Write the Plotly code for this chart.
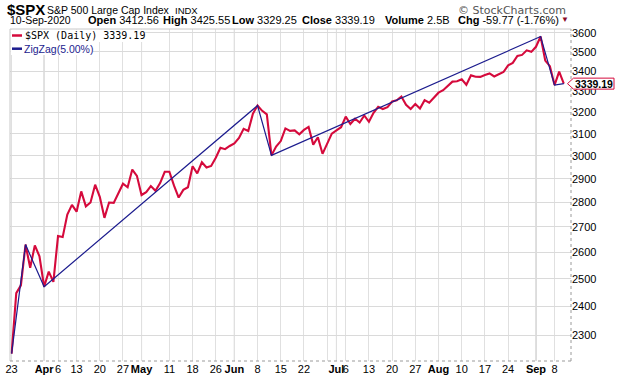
import plotly.graph_objects as go
import numpy as np

# ---------------- data ----------------
dates = [
    "2020-03-23", "2020-03-24", "2020-03-25", "2020-03-26", "2020-03-27", "2020-03-30", "2020-03-31",
    "2020-04-01", "2020-04-02", "2020-04-03", "2020-04-06", "2020-04-07", "2020-04-08", "2020-04-09",
    "2020-04-13", "2020-04-14", "2020-04-15", "2020-04-16", "2020-04-17", "2020-04-20", "2020-04-21",
    "2020-04-22", "2020-04-23", "2020-04-24", "2020-04-27", "2020-04-28", "2020-04-29", "2020-04-30",
    "2020-05-01", "2020-05-04", "2020-05-05", "2020-05-06", "2020-05-07", "2020-05-08", "2020-05-11",
    "2020-05-12", "2020-05-13", "2020-05-14", "2020-05-15", "2020-05-18", "2020-05-19", "2020-05-20",
    "2020-05-21", "2020-05-22", "2020-05-26", "2020-05-27", "2020-05-28", "2020-05-29", "2020-06-01",
    "2020-06-02", "2020-06-03", "2020-06-04", "2020-06-05", "2020-06-08", "2020-06-09", "2020-06-10",
    "2020-06-11", "2020-06-12", "2020-06-15", "2020-06-16", "2020-06-17", "2020-06-18", "2020-06-19",
    "2020-06-22", "2020-06-23", "2020-06-24", "2020-06-25", "2020-06-26", "2020-06-29", "2020-06-30",
    "2020-07-01", "2020-07-02", "2020-07-06", "2020-07-07", "2020-07-08", "2020-07-09", "2020-07-10",
    "2020-07-13", "2020-07-14", "2020-07-15", "2020-07-16", "2020-07-17", "2020-07-20", "2020-07-21",
    "2020-07-22", "2020-07-23", "2020-07-24", "2020-07-27", "2020-07-28", "2020-07-29", "2020-07-30",
    "2020-07-31", "2020-08-03", "2020-08-04", "2020-08-05", "2020-08-06", "2020-08-07", "2020-08-10",
    "2020-08-11", "2020-08-12", "2020-08-13", "2020-08-14", "2020-08-17", "2020-08-18", "2020-08-19",
    "2020-08-20", "2020-08-21", "2020-08-24", "2020-08-25", "2020-08-26", "2020-08-27", "2020-08-28",
    "2020-08-31", "2020-09-01", "2020-09-02", "2020-09-03", "2020-09-04", "2020-09-08", "2020-09-09",
    "2020-09-10",
]
close = [
    2237.40, 2447.33, 2475.56, 2630.07, 2541.47, 2626.65, 2584.59,
    2470.50, 2526.90, 2488.65, 2663.68, 2659.41, 2749.98, 2789.82,
    2761.63, 2846.06, 2783.36, 2799.55, 2874.56, 2823.16, 2736.56,
    2799.31, 2797.80, 2836.74, 2878.48, 2863.39, 2939.51, 2912.43,
    2830.71, 2842.74, 2868.44, 2848.42, 2881.19, 2929.80, 2930.32,
    2870.12, 2820.00, 2852.50, 2863.70, 2953.91, 2922.94, 2971.61,
    2948.51, 2955.45, 2991.77, 3036.13, 3029.73, 3044.31, 3055.73,
    3080.82, 3122.87, 3112.35, 3193.93, 3232.39, 3207.18, 3190.14,
    3002.10, 3041.31, 3066.59, 3124.74, 3113.49, 3115.34, 3097.74,
    3117.86, 3131.29, 3050.33, 3083.76, 3009.05, 3053.24, 3100.29,
    3115.86, 3130.01, 3179.72, 3145.32, 3169.94, 3152.05, 3185.04,
    3155.22, 3197.52, 3226.56, 3215.57, 3224.73, 3251.84, 3257.30,
    3276.02, 3235.66, 3215.63, 3239.41, 3218.44, 3258.44, 3246.22,
    3271.12, 3294.61, 3306.51, 3327.77, 3349.16, 3351.28, 3360.47,
    3333.69, 3380.35, 3373.43, 3372.85, 3381.99, 3389.78, 3374.85,
    3385.51, 3397.16, 3431.28, 3443.62, 3478.73, 3484.55, 3508.01,
    3500.31, 3526.65, 3580.84, 3455.06, 3426.96, 3331.84, 3398.96,
    3339.19,
]
zz_dates = ["2020-03-23", "2020-03-26", "2020-04-01", "2020-06-08", "2020-06-11",
            "2020-09-02", "2020-09-08", "2020-09-10"]
zz_values = [2237.40, 2630.07, 2470.50, 3232.39, 3002.10, 3580.84, 3331.84, 3339.19]

tick_dates = ["2020-03-23", "2020-04-01", "2020-04-06", "2020-04-13", "2020-04-20", "2020-04-27",
              "2020-05-01", "2020-05-11", "2020-05-18", "2020-05-26", "2020-06-01", "2020-06-08",
              "2020-06-15", "2020-06-22", "2020-06-29", "2020-07-01", "2020-07-06", "2020-07-13",
              "2020-07-20", "2020-07-27", "2020-08-03", "2020-08-10", "2020-08-17", "2020-08-24",
              "2020-09-01", "2020-09-08"]
tick_labels = ["23", "<b>Apr</b>", "6", "13", "20", "27",
               "<b>May</b>", "11", "18", "26", "<b>Jun</b>", "8",
               "15", "22", "", "<b>Jul</b>", "6", "13",
               "20", "27", "<b>Aug</b>", "10", "17", "24",
               "<b>Sep</b>", "8"]
month_dates = ["2020-04-01", "2020-05-01", "2020-06-01", "2020-07-01", "2020-08-03", "2020-09-01"]
y_ticks = [2300, 2400, 2500, 2600, 2700, 2800, 2900, 3000, 3100, 3200, 3300, 3400, 3500, 3600]

# ---------------- layout geometry ----------------
W, H = 618, 380
L, R, T, B = 10, 47, 29, 19
PW, PH = W - L - R, H - T - B
Y_LO, Y_HI = np.log10(2213), np.log10(3621)
X_LO, X_HI = -0.35, len(dates) - 1 + 1.55

RED = "#d50a3c"
NAVY = "#1c1c8e"
FONT = "Liberation Sans, Arial, sans-serif"


def px(x):
    return (x - L) / PW


def py(y):
    return (H - B - y) / PH


def val_to_ypix(v):
    frac = (np.log10(v) - Y_LO) / (Y_HI - Y_LO)
    return T + (1 - frac) * PH


fig = go.Figure()
fig.add_trace(go.Scatter(x=dates, y=close, mode="lines",
                         line=dict(color=RED, width=2.1), name="$SPX (Daily)"))
fig.add_trace(go.Scatter(x=zz_dates, y=zz_values, mode="lines",
                         line=dict(color=NAVY, width=1.2), name="ZigZag(5.00%)"))

shapes = []
# darker month gridlines
for m in month_dates:
    i = dates.index(m)
    shapes.append(dict(type="line", xref="x", yref="paper", x0=i, x1=i, y0=0, y1=1,
                       line=dict(color="#b4b4b4", width=1), layer="between"))
# legend backgrounds
shapes.append(dict(type="rect", xref="paper", yref="paper", x0=px(10.5), x1=px(143), y0=py(42), y1=py(29.5),
                   fillcolor="white", line=dict(width=0), layer="above"))
shapes.append(dict(type="rect", xref="paper", yref="paper", x0=px(10.5), x1=px(93), y0=py(55), y1=py(42),
                   fillcolor="white", line=dict(width=0), layer="above"))
# legend line swatches
shapes.append(dict(type="line", xref="paper", yref="paper", x0=px(12), x1=px(22), y0=py(35.5), y1=py(35.5),
                   line=dict(color=RED, width=2.5), layer="above"))
shapes.append(dict(type="line", xref="paper", yref="paper", x0=px(12), x1=px(22), y0=py(48.7), y1=py(48.7),
                   line=dict(color=NAVY, width=2.5), layer="above"))
# plot borders
shapes.append(dict(type="line", xref="paper", yref="paper", x0=0, x1=1, y0=1, y1=1,
                   line=dict(color="#c8c8c8", width=1), layer="above"))
shapes.append(dict(type="line", xref="paper", yref="paper", x0=0, x1=0, y0=0, y1=1,
                   line=dict(color="#c8c8c8", width=1), layer="above"))
shapes.append(dict(type="line", xref="paper", yref="paper", x0=1, x1=1, y0=0, y1=1,
                   line=dict(color="#9a9a9a", width=1, dash="dot"), layer="above"))
shapes.append(dict(type="line", xref="paper", yref="paper", x0=0, x1=1, y0=0, y1=0,
                   line=dict(color="#9a9a9a", width=1, dash="dot"), layer="above"))
# last value pointer box
yc = val_to_ypix(close[-1])
pts = [(567.5, yc), (573.5, yc - 5.5), (614, yc - 5.5), (614, yc + 5.5), (573.5, yc + 5.5)]
path = "M " + " L ".join(f"{px(a):.5f},{py(b):.5f}" for a, b in pts) + " Z"
shapes.append(dict(type="path", xref="paper", yref="paper", path=path,
                   fillcolor="white", line=dict(color=RED, width=1), layer="above"))

ann = []


def text(x, y, s, size=11, color="black", anchor="left", family=FONT):
    ann.append(dict(xref="paper", yref="paper", x=px(x), y=py(y), text=s, showarrow=False,
                    xanchor=anchor, yanchor="middle", font=dict(family=family, size=size, color=color),
                    borderpad=0))


# title line 1
text(6, 9.5, "<b>$SPX</b>", size=15)
text(46, 10, "S&P 500 Large Cap Index", size=10.5)
text(174, 10.5, "INDX", size=9.5)
text(567, 10.5, "© StockCharts.com", size=11, color="#555555", anchor="right",
     family="DejaVu Sans, Verdana, sans-serif")
# title line 2
text(9, 19.5, "10-Sep-2020", size=10.5)
text(87, 19.5, "<b>Open</b> 3412.56", size=11)
text(162, 19.5, "<b>High</b> 3425.55", size=11)
text(231, 19.5, "<b>Low</b> 3329.25", size=11)
text(301, 19.5, "<b>Close</b> 3339.19", size=11)
text(384, 19.5, "<b>Volume</b> 2.5B", size=11)
text(457, 19.5, "<b>Chg</b> -59.77 (-1.76%)", size=11)
text(565, 19.5, "▼", size=8, color="#8c0a28", anchor="center")
# legend
text(24, 35.5, "$SPX (Daily) 3339.19", size=10, family="DejaVu Sans Mono, monospace")
text(23, 48.7, "ZigZag(5.00%)", size=10.5, color=NAVY)
# last value label
text(593.5, yc, "<b>3339.19</b>", size=10.5, anchor="center")

fig.update_layout(
    width=W, height=H,
    margin=dict(l=L, r=R, t=T, b=B, pad=0, autoexpand=False),
    paper_bgcolor="white", plot_bgcolor="white",
    showlegend=False,
    shapes=shapes, annotations=ann,
    font=dict(family=FONT, size=11, color="black"),
    xaxis=dict(type="category", range=[X_LO, X_HI], tickmode="array",
               tickvals=tick_dates, ticktext=tick_labels, showgrid=True, tickangle=0,
               automargin=False,
               gridcolor="#e0e0e0", gridwidth=1, zeroline=False, showline=False,
               ticks="", tickfont=dict(size=11, family=FONT, color="black")),
    yaxis=dict(type="log", side="right", range=[Y_LO, Y_HI], tickmode="array",
               tickvals=y_ticks, ticktext=[str(v) for v in y_ticks], showgrid=True,
               automargin=False,
               gridcolor="#dadada", gridwidth=1, zeroline=False, showline=False,
               ticks="", tickfont=dict(size=11, family=FONT, color="black")),
)

fig.write_html("out.html", config={"displayModeBar": False},
               post_script="document.body.style.margin='0px';")
